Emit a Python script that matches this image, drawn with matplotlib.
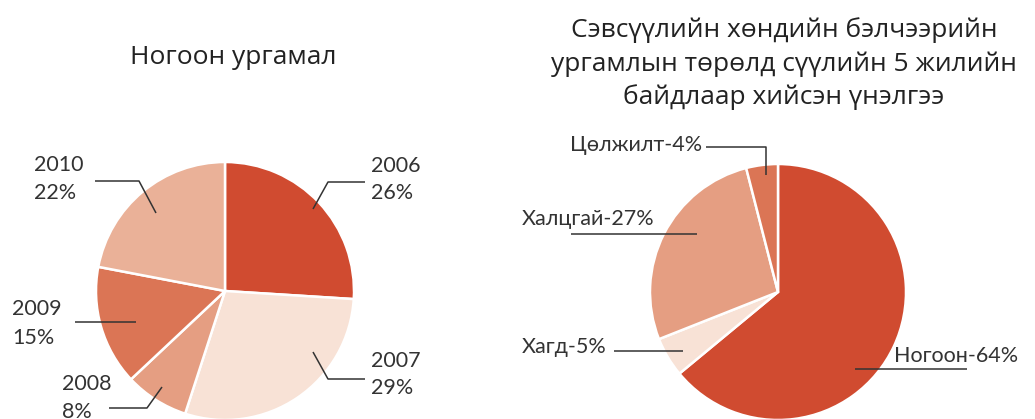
import matplotlib.pyplot as plt

# Left pie: green vegetation share by year
years = ['2006', '2007', '2008', '2009', '2010']
year_shares = [26, 29, 8, 15, 22]
year_colors = ['#d04b30', '#f8e2d6', '#e59e82', '#db7555', '#eab198']

# Right pie: pasture vegetation types over the last 5 years
kinds = ['Ногоон', 'Хагд', 'Халцгай', 'Цөлжилт']
kind_shares = [64, 5, 27, 4]
kind_colors = ['#d04b30', '#f8e2d6', '#e59e82', '#db7555']

left_title = 'Ногоон ургамал'
right_title = 'Сэвсүүлийн хөндийн бэлчээрийн\nургамлын төрөлд сүүлийн 5 жилийн\nбайдлаар хийсэн үнэлгээ'

W, H = 1035, 419
label_font = ['Lato', 'DejaVu Sans']
title_font = ['Open Sans', 'DejaVu Sans']
text_color = '#333333'
line_color = '#333333'

fig = plt.figure(figsize=(W / 100, H / 100), dpi=100)


def make_axes(x0, x1, cx, cy, r):
    ax = fig.add_axes([x0 / W, 0, (x1 - x0) / W, 1])
    return ax, (cx, cy, r)


def to_data(geo, x, y):
    cx, cy, r = geo
    return (x - cx) / r, (cy - y) / r


def finish(ax, geo, x0, x1):
    cx, cy, r = geo
    ax.set_xlim((x0 - cx) / r, (x1 - cx) / r)
    ax.set_ylim((cy - H) / r, cy / r)
    ax.set_aspect('auto')
    ax.axis('off')


def leader(ax, geo, pts):
    xs, ys = zip(*[to_data(geo, x, y) for x, y in pts])
    ax.plot(xs, ys, color=line_color, lw=1.1, solid_capstyle='butt')


def label(ax, geo, x, y, s, ha='left'):
    tx, ty = to_data(geo, x, y)
    ax.text(tx, ty, s, ha=ha, va='center', fontsize=15.5, color=text_color,
            family=label_font)


# ---- left pie ----
axl, gl = make_axes(0, 500, 225, 291, 129)
axl.pie(year_shares, colors=year_colors, startangle=90, counterclock=False,
        wedgeprops=dict(edgecolor='white', linewidth=1.8))
finish(axl, gl, 0, 500)

tx, ty = to_data(gl, 233, 57)
axl.text(tx, ty, left_title, ha='center', va='center', fontsize=19,
         color='#222222', family=title_font)

left_layout = {
    '2006': dict(text=(371, 166, 193), line=[(313, 209), (328, 182), (365, 182)]),
    '2007': dict(text=(371, 361, 388), line=[(313, 352), (328, 379), (365, 379)]),
    '2008': dict(text=(62, 384, 412), line=[(162, 387), (147, 408), (109, 408)]),
    '2009': dict(text=(12, 309, 338), line=[(75, 322), (136, 322)]),
    '2010': dict(text=(34, 165, 193), line=[(95, 181), (139, 181), (156, 213)]),
}
for name, share in zip(years, year_shares):
    lay = left_layout[name]
    x, y1, y2 = lay['text']
    label(axl, gl, x, y1, name)
    label(axl, gl, x, y2, f'{share}%')
    leader(axl, gl, lay['line'])

# ---- right pie ----
axr, gr = make_axes(500, W, 778, 292, 128)
axr.pie(kind_shares, colors=kind_colors, startangle=90, counterclock=False,
        wedgeprops=dict(edgecolor='white', linewidth=1.8))
finish(axr, gr, 500, W)

tx, ty = to_data(gr, 784, 64)
axr.text(tx, ty, right_title, ha='center', va='center', fontsize=19,
         color='#222222', family=title_font, linespacing=1.4)

right_layout = {
    'Ногоон': dict(text=(894, 356, 'left'), line=[(855, 369), (967, 369)]),
    'Хагд': dict(text=(522, 347, 'left'), line=[(614, 351), (683, 351)]),
    'Халцгай': dict(text=(522, 219, 'left'), line=[(571, 234), (697, 234)]),
    'Цөлжилт': dict(text=(702, 145, 'right'), line=[(706, 147), (766, 147), (766, 175)]),
}
for name, share in zip(kinds, kind_shares):
    lay = right_layout[name]
    x, y, ha = lay['text']
    label(axr, gr, x, y, f'{name}-{share}%', ha=ha)
    leader(axr, gr, lay['line'])

fig.savefig('out.png', dpi=100, facecolor='white')
